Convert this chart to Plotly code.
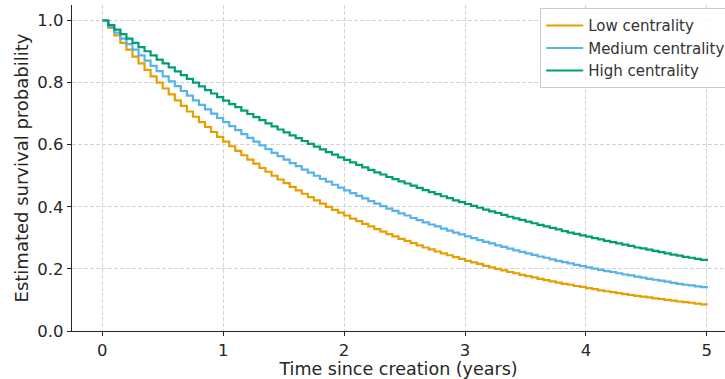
import plotly.graph_objects as go

time_years = [
    0.00, 0.05, 0.10, 0.15, 0.20, 0.25, 0.30, 0.35, 0.40, 0.45,
    0.50, 0.55, 0.60, 0.65, 0.70, 0.75, 0.80, 0.85, 0.90, 0.95,
    1.00, 1.05, 1.10, 1.15, 1.20, 1.25, 1.30, 1.35, 1.40, 1.45,
    1.50, 1.55, 1.60, 1.65, 1.70, 1.75, 1.80, 1.85, 1.90, 1.95,
    2.00, 2.05, 2.10, 2.15, 2.20, 2.25, 2.30, 2.35, 2.40, 2.45,
    2.50, 2.55, 2.60, 2.65, 2.70, 2.75, 2.80, 2.85, 2.90, 2.95,
    3.00, 3.05, 3.10, 3.15, 3.20, 3.25, 3.30, 3.35, 3.40, 3.45,
    3.50, 3.55, 3.60, 3.65, 3.70, 3.75, 3.80, 3.85, 3.90, 3.95,
    4.00, 4.05, 4.10, 4.15, 4.20, 4.25, 4.30, 4.35, 4.40, 4.45,
    4.50, 4.55, 4.60, 4.65, 4.70, 4.75, 4.80, 4.85, 4.90, 4.95,
    5.00,
]

low_centrality = [
    1.000, 0.976, 0.952, 0.928, 0.906, 0.884, 0.862, 0.841, 0.820, 0.800,
    0.781, 0.762, 0.743, 0.725, 0.707, 0.690, 0.673, 0.657, 0.641, 0.625,
    0.610, 0.595, 0.580, 0.566, 0.552, 0.539, 0.525, 0.513, 0.500, 0.488,
    0.476, 0.464, 0.453, 0.442, 0.431, 0.421, 0.410, 0.400, 0.390, 0.381,
    0.372, 0.362, 0.354, 0.345, 0.337, 0.328, 0.320, 0.312, 0.305, 0.297,
    0.290, 0.283, 0.276, 0.269, 0.263, 0.256, 0.250, 0.244, 0.238, 0.232,
    0.226, 0.221, 0.216, 0.210, 0.205, 0.200, 0.195, 0.190, 0.186, 0.181,
    0.177, 0.173, 0.168, 0.164, 0.160, 0.156, 0.152, 0.149, 0.145, 0.142,
    0.138, 0.135, 0.131, 0.128, 0.125, 0.122, 0.119, 0.116, 0.113, 0.111,
    0.108, 0.105, 0.103, 0.100, 0.098, 0.095, 0.093, 0.091, 0.088, 0.086,
    0.084,
]

medium_centrality = [
    1.000, 0.980, 0.961, 0.942, 0.924, 0.906, 0.888, 0.871, 0.854, 0.837,
    0.820, 0.804, 0.789, 0.773, 0.758, 0.743, 0.728, 0.714, 0.700, 0.686,
    0.673, 0.660, 0.647, 0.634, 0.622, 0.610, 0.598, 0.586, 0.574, 0.563,
    0.552, 0.541, 0.531, 0.520, 0.510, 0.500, 0.490, 0.481, 0.471, 0.462,
    0.453, 0.444, 0.435, 0.427, 0.418, 0.410, 0.402, 0.394, 0.387, 0.379,
    0.372, 0.364, 0.357, 0.350, 0.343, 0.337, 0.330, 0.323, 0.317, 0.311,
    0.305, 0.299, 0.293, 0.287, 0.282, 0.276, 0.271, 0.265, 0.260, 0.255,
    0.250, 0.245, 0.240, 0.236, 0.231, 0.226, 0.222, 0.218, 0.213, 0.209,
    0.205, 0.201, 0.197, 0.193, 0.190, 0.186, 0.182, 0.179, 0.175, 0.172,
    0.168, 0.165, 0.162, 0.159, 0.155, 0.152, 0.149, 0.147, 0.144, 0.141,
    0.138,
]

high_centrality = [
    1.000, 0.985, 0.971, 0.956, 0.942, 0.928, 0.914, 0.901, 0.888, 0.874,
    0.862, 0.849, 0.836, 0.824, 0.812, 0.800, 0.788, 0.776, 0.765, 0.753,
    0.742, 0.731, 0.721, 0.710, 0.699, 0.689, 0.679, 0.669, 0.659, 0.649,
    0.640, 0.630, 0.621, 0.612, 0.603, 0.594, 0.585, 0.576, 0.568, 0.559,
    0.551, 0.543, 0.535, 0.527, 0.519, 0.511, 0.504, 0.496, 0.489, 0.482,
    0.475, 0.468, 0.461, 0.454, 0.447, 0.441, 0.434, 0.428, 0.421, 0.415,
    0.409, 0.403, 0.397, 0.391, 0.385, 0.380, 0.374, 0.368, 0.363, 0.358,
    0.352, 0.347, 0.342, 0.337, 0.332, 0.327, 0.322, 0.317, 0.313, 0.308,
    0.304, 0.299, 0.295, 0.290, 0.286, 0.282, 0.278, 0.274, 0.269, 0.266,
    0.262, 0.258, 0.254, 0.250, 0.246, 0.243, 0.239, 0.236, 0.232, 0.229,
    0.225,
]

series_names = ["Low centrality", "Medium centrality", "High centrality"]
series_values = [low_centrality, medium_centrality, high_centrality]
series_colors = ["#E69F00", "#56B4E9", "#009E73"]

x_tick_values = [0, 1, 2, 3, 4, 5]
y_tick_values = [0.0, 0.2, 0.4, 0.6, 0.8, 1.0]

FONT = "DejaVu Sans"
TXT = "#262626"

fig = go.Figure()
for name, vals, col in zip(series_names, series_values, series_colors):
    fig.add_trace(go.Scatter(
        x=time_years, y=vals, name=name, mode="lines",
        line=dict(color=col, width=2.2, shape="hv"),
    ))

axis_common = dict(
    showline=True, linecolor="#262626", linewidth=1.3,
    ticks="outside", ticklen=4, tickcolor="#262626", tickwidth=1,
    showgrid=True, gridcolor="#d3d3d3", gridwidth=0.8, griddash="4px,2px",
    zeroline=False, tickfont=dict(family=FONT, size=16.5, color=TXT),
    mirror=False,
)

fig.update_xaxes(
    **axis_common, range=[-0.25, 5.15], tickvals=x_tick_values,
    title=dict(text="Time since creation (years)",
               font=dict(family=FONT, size=17.5, color=TXT), standoff=4),
)
fig.update_yaxes(
    **axis_common, range=[0, 1.05], tickvals=y_tick_values, tickformat=".1f",
    title=dict(text="Estimated survival probability",
               font=dict(family=FONT, size=18, color=TXT), standoff=3),
)

fig.update_layout(
    width=725, height=379,
    margin=dict(l=72, r=0, t=5, b=48, autoexpand=False),
    paper_bgcolor="white", plot_bgcolor="white",
    font=dict(family=FONT, color=TXT),
    legend=dict(
        x=0.717, y=0.99, xanchor="left", yanchor="top",
        bgcolor="rgba(255,255,255,0.85)", bordercolor="#cccccc", borderwidth=1,
        font=dict(family=FONT, size=15, color="#333333"),
        itemwidth=37, tracegroupgap=0,
    ),
    showlegend=True,
)

fig.write_html(
    "out.html",
    config={"displayModeBar": False},
    post_script="document.body.style.margin='0px';document.body.style.overflow='hidden';",
)
